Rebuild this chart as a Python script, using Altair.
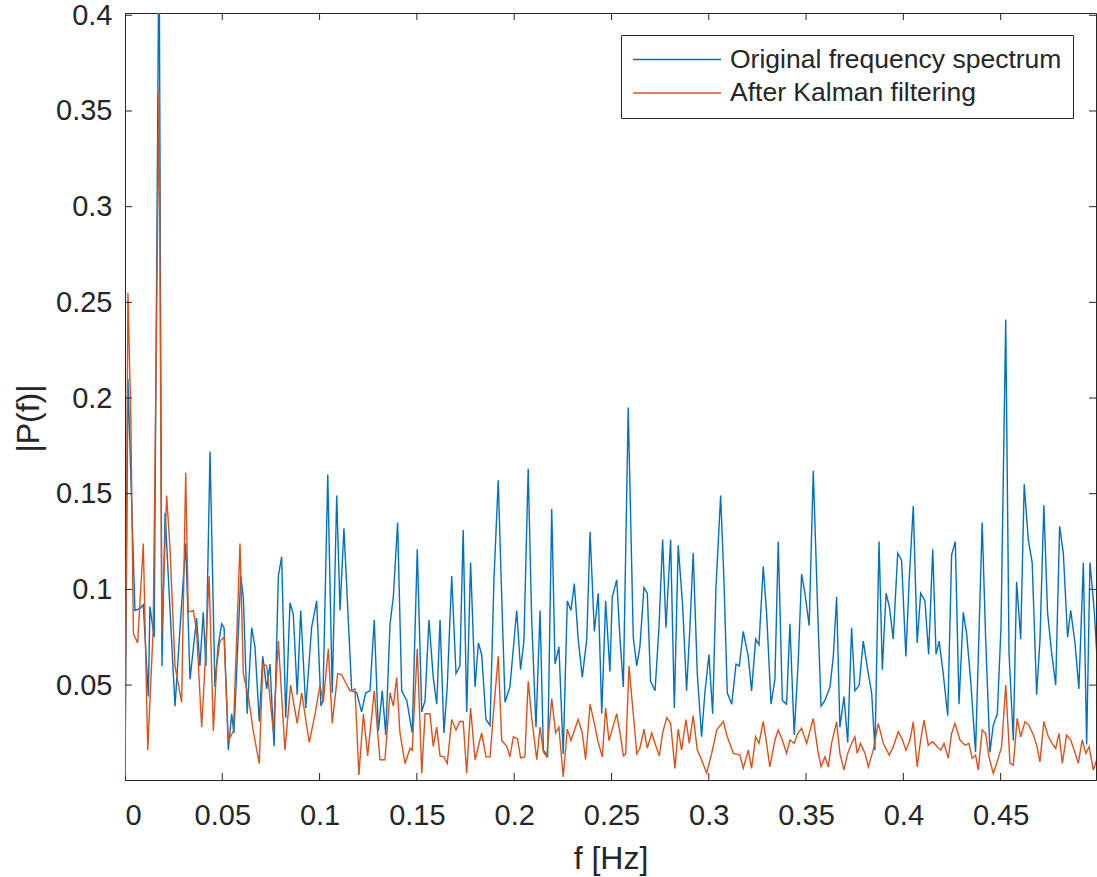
import altair as alt
import pandas as pd

series_names = ["Original frequency spectrum", "After Kalman filtering"]
series_colors = ["#0072BD", "#D95319"]

blue_f = [0.0, 0.0015, 0.0051, 0.0077, 0.0094, 0.0120, 0.0128, 0.0150, 0.0175, 0.0190,
          0.0206, 0.0231, 0.0257, 0.0283, 0.0312, 0.0334, 0.0368, 0.0385, 0.0402, 0.0416,
          0.0437, 0.0462, 0.0478, 0.0497, 0.0509, 0.0531, 0.0548, 0.0560, 0.0595, 0.0608,
          0.0628, 0.0651, 0.0668, 0.0690, 0.0708, 0.0728, 0.0745, 0.0766, 0.0788, 0.0805,
          0.0826, 0.0848, 0.0865, 0.0885, 0.0903, 0.0929, 0.0959, 0.0985, 0.1007, 0.1017,
          0.1042, 0.1065, 0.1088, 0.1105, 0.1125, 0.1165, 0.1191, 0.1216, 0.1237, 0.1259,
          0.1281, 0.1302, 0.1322, 0.1340, 0.1362, 0.1379, 0.1401, 0.1422, 0.1448, 0.1476,
          0.1502, 0.1525, 0.1542, 0.1562, 0.1584, 0.1602, 0.1619, 0.1639, 0.1656, 0.1679,
          0.1701, 0.1721, 0.1738, 0.1756, 0.1776, 0.1799, 0.1816, 0.1833, 0.1855, 0.1876,
          0.1896, 0.1918, 0.1936, 0.1953, 0.1978, 0.2013, 0.2033, 0.2050, 0.2072, 0.2090,
          0.2112, 0.2133, 0.2150, 0.2172, 0.2193, 0.2210, 0.2230, 0.2252, 0.2273, 0.2292,
          0.2309, 0.2329, 0.2350, 0.2373, 0.2390, 0.2412, 0.2432, 0.2450, 0.2470, 0.2492,
          0.2504, 0.2527, 0.2544, 0.2561, 0.2586, 0.2612, 0.2630, 0.2646, 0.2667, 0.2684,
          0.2701, 0.2724, 0.2744, 0.2763, 0.2780, 0.2804, 0.2823, 0.2843, 0.2866, 0.2886,
          0.2903, 0.2920, 0.2941, 0.2963, 0.2980, 0.3001, 0.3020, 0.3037, 0.3061, 0.3078,
          0.3095, 0.3118, 0.3140, 0.3157, 0.3177, 0.3203, 0.3220, 0.3241, 0.3258, 0.3280,
          0.3297, 0.3320, 0.3340, 0.3357, 0.3378, 0.3400, 0.3417, 0.3439, 0.3460, 0.3477,
          0.3494, 0.3516, 0.3537, 0.3560, 0.3577, 0.3597, 0.3623, 0.3640, 0.3657, 0.3674,
          0.3695, 0.3714, 0.3734, 0.3751, 0.3773, 0.3794, 0.3820, 0.3837, 0.3854, 0.3875,
          0.3892, 0.3911, 0.3928, 0.3948, 0.3971, 0.3991, 0.4013, 0.4030, 0.4051, 0.4071,
          0.4089, 0.4111, 0.4130, 0.4151, 0.4168, 0.4184, 0.4205, 0.4228, 0.4248, 0.4267,
          0.4286, 0.4308, 0.4325, 0.4347, 0.4371, 0.4405, 0.4423, 0.4445, 0.4462, 0.4483,
          0.4502, 0.4526, 0.4543, 0.4565, 0.4582, 0.4603, 0.4621, 0.4642, 0.4662, 0.4685,
          0.4702, 0.4722, 0.4741, 0.4762, 0.4783, 0.4803, 0.4822, 0.4844, 0.4860, 0.4882,
          0.4902, 0.4925, 0.4942, 0.4959, 0.4981, 0.4993]
blue_p = [0.002, 0.210, 0.089, 0.090, 0.092, 0.044, 0.091, 0.075, 0.450, 0.060,
          0.140, 0.090, 0.039, 0.080, 0.124, 0.053, 0.085, 0.060, 0.088, 0.060,
          0.172, 0.049, 0.070, 0.082, 0.080, 0.016, 0.035, 0.025, 0.107, 0.096,
          0.035, 0.080, 0.070, 0.031, 0.065, 0.048, 0.061, 0.018, 0.107, 0.117,
          0.033, 0.093, 0.087, 0.045, 0.089, 0.038, 0.080, 0.094, 0.039, 0.042,
          0.160, 0.046, 0.149, 0.089, 0.132, 0.047, 0.046, 0.036, 0.046, 0.047,
          0.084, 0.026, 0.047, 0.024, 0.082, 0.096, 0.135, 0.047, 0.042, 0.025,
          0.121, 0.036, 0.042, 0.084, 0.054, 0.040, 0.084, 0.025, 0.049, 0.107,
          0.056, 0.060, 0.131, 0.036, 0.114, 0.049, 0.072, 0.066, 0.032, 0.029,
          0.105, 0.157, 0.096, 0.041, 0.049, 0.089, 0.058, 0.073, 0.163, 0.084,
          0.028, 0.089, 0.016, 0.013, 0.142, 0.061, 0.070, 0.014, 0.094, 0.089,
          0.103, 0.074, 0.054, 0.074, 0.130, 0.078, 0.098, 0.035, 0.094, 0.057,
          0.096, 0.105, 0.074, 0.049, 0.195, 0.075, 0.060, 0.070, 0.101, 0.098,
          0.052, 0.047, 0.080, 0.126, 0.080, 0.126, 0.038, 0.123, 0.091, 0.047,
          0.080, 0.119, 0.056, 0.023, 0.046, 0.066, 0.035, 0.101, 0.149, 0.105,
          0.046, 0.040, 0.061, 0.060, 0.078, 0.065, 0.047, 0.074, 0.071, 0.112,
          0.088, 0.040, 0.053, 0.125, 0.042, 0.040, 0.082, 0.024, 0.063, 0.108,
          0.098, 0.081, 0.162, 0.088, 0.039, 0.042, 0.049, 0.065, 0.096, 0.028,
          0.044, 0.020, 0.080, 0.047, 0.050, 0.073, 0.056, 0.046, 0.016, 0.125,
          0.058, 0.098, 0.091, 0.074, 0.119, 0.115, 0.065, 0.105, 0.1435, 0.072,
          0.098, 0.094, 0.066, 0.121, 0.066, 0.073, 0.056, 0.034, 0.118, 0.125,
          0.040, 0.088, 0.077, 0.051, 0.015, 0.135, 0.074, 0.015, 0.029, 0.035,
          0.081, 0.241, 0.067, 0.021, 0.104, 0.074, 0.155, 0.126, 0.114, 0.045,
          0.0735, 0.144, 0.088, 0.067, 0.050, 0.133, 0.119, 0.075, 0.089, 0.072,
          0.048, 0.114, 0.019, 0.114, 0.089, 0.068]

red_f = [0.0, 0.0015, 0.0030, 0.0043, 0.0065, 0.0094, 0.0117, 0.0145, 0.0175, 0.0189,
         0.0214, 0.0231, 0.0257, 0.0291, 0.0312, 0.0325, 0.0351, 0.0368, 0.0394, 0.0411,
         0.0432, 0.0454, 0.0471, 0.0488, 0.0509, 0.0531, 0.0557, 0.0591, 0.0608, 0.0634,
         0.0659, 0.0690, 0.0708, 0.0728, 0.0762, 0.0788, 0.0822, 0.0851, 0.0885, 0.0908,
         0.0947, 0.0977, 0.1002, 0.1019, 0.1045, 0.1065, 0.1093, 0.1113, 0.1130, 0.1156,
         0.1182, 0.1202, 0.1225, 0.1247, 0.1281, 0.1310, 0.1336, 0.1362, 0.1379, 0.1396,
         0.1413, 0.1439, 0.1465, 0.1476, 0.1502, 0.1525, 0.1542, 0.1567, 0.1584, 0.1602,
         0.1619, 0.1639, 0.1656, 0.1679, 0.1701, 0.1721, 0.1738, 0.1756, 0.1776, 0.1799,
         0.1833, 0.1855, 0.1876, 0.1893, 0.1918, 0.1936, 0.1962, 0.1978, 0.1996, 0.2017,
         0.2033, 0.2055, 0.2072, 0.2090, 0.2116, 0.2133, 0.2150, 0.2167, 0.2193, 0.2213,
         0.2230, 0.2252, 0.2273, 0.2292, 0.2312, 0.2329, 0.2350, 0.2367, 0.2390, 0.2412,
         0.2432, 0.2453, 0.2470, 0.2487, 0.2504, 0.2527, 0.2544, 0.2561, 0.2573, 0.2590,
         0.2612, 0.2630, 0.2646, 0.2667, 0.2684, 0.2707, 0.2724, 0.2746, 0.2763, 0.2784,
         0.2804, 0.2826, 0.2843, 0.2860, 0.2883, 0.2900, 0.2920, 0.2941, 0.2963, 0.2989,
         0.3015, 0.3041, 0.3075, 0.3095, 0.3127, 0.3160, 0.3177, 0.3203, 0.3220, 0.3241,
         0.3258, 0.3280, 0.3297, 0.3314, 0.3340, 0.3357, 0.3378, 0.3400, 0.3417, 0.3439,
         0.3457, 0.3477, 0.3503, 0.3537, 0.3560, 0.3577, 0.3597, 0.3614, 0.3631, 0.3657,
         0.3674, 0.3695, 0.3714, 0.3734, 0.3751, 0.3763, 0.3780, 0.3803, 0.3820, 0.3845,
         0.3871, 0.3897, 0.3928, 0.3948, 0.3974, 0.3996, 0.4013, 0.4034, 0.4051, 0.4071,
         0.4089, 0.4106, 0.4128, 0.4151, 0.4174, 0.4192, 0.4209, 0.4231, 0.4248, 0.4265,
         0.4291, 0.4317, 0.4337, 0.4354, 0.4371, 0.4385, 0.4405, 0.4423, 0.4440, 0.4462,
         0.4485, 0.4505, 0.4526, 0.4548, 0.4565, 0.4585, 0.4603, 0.4625, 0.4645, 0.4668,
         0.4685, 0.4702, 0.4722, 0.4745, 0.4765, 0.4783, 0.4800, 0.4817, 0.4839, 0.4860,
         0.4878, 0.4899, 0.4919, 0.4938, 0.4955, 0.4976, 0.4993]
red_p = [0.003, 0.255, 0.190, 0.077, 0.072, 0.124, 0.016, 0.080, 0.361, 0.077,
         0.149, 0.122, 0.060, 0.041, 0.161, 0.088, 0.089, 0.078, 0.028, 0.060,
         0.107, 0.026, 0.060, 0.073, 0.075, 0.021, 0.026, 0.124, 0.056, 0.044,
         0.026, 0.009, 0.061, 0.060, 0.026, 0.073, 0.016, 0.050, 0.030, 0.046,
         0.020, 0.035, 0.050, 0.041, 0.069, 0.030, 0.056, 0.0555, 0.052, 0.047,
         0.048, 0.003, 0.035, 0.013, 0.047, 0.011, 0.011, 0.046, 0.039, 0.054,
         0.025, 0.009, 0.017, 0.016, 0.069, 0.004, 0.035, 0.035, 0.018, 0.028,
         0.013, 0.0125, 0.009, 0.032, 0.0265, 0.031, 0.031, 0.004, 0.038, 0.011,
         0.025, 0.0125, 0.0125, 0.035, 0.065, 0.021, 0.018, 0.0125, 0.023, 0.022,
         0.012, 0.0125, 0.052, 0.033, 0.011, 0.028, 0.015, 0.0125, 0.043, 0.025,
         0.028, 0.002, 0.027, 0.021, 0.027, 0.032, 0.025, 0.011, 0.040, 0.030,
         0.020, 0.0125, 0.038, 0.021, 0.027, 0.035, 0.025, 0.013, 0.014, 0.060,
         0.035, 0.014, 0.017, 0.027, 0.017, 0.025, 0.0195, 0.013, 0.025, 0.033,
         0.030, 0.0065, 0.027, 0.016, 0.032, 0.0195, 0.034, 0.016, 0.011, 0.004,
         0.0143, 0.0265, 0.031, 0.023, 0.0143, 0.0134, 0.0065, 0.016, 0.0065, 0.023,
         0.0195, 0.031, 0.0195, 0.0073, 0.0213, 0.0265, 0.0213, 0.0143, 0.0213, 0.0195,
         0.0247, 0.0274, 0.0195, 0.0326, 0.016, 0.0073, 0.0125, 0.0073, 0.0195, 0.0308,
         0.0143, 0.0056, 0.0143, 0.0195, 0.023, 0.0143, 0.0195, 0.0143, 0.0073, 0.016,
         0.030, 0.0195, 0.0134, 0.0178, 0.0256, 0.0213, 0.016, 0.0213, 0.0308, 0.0073,
         0.0213, 0.0317, 0.0186, 0.0204, 0.0178, 0.016, 0.0195, 0.0117, 0.0247, 0.030,
         0.0213, 0.0186, 0.0195, 0.0117, 0.0134, 0.0056, 0.0265, 0.0248, 0.0125, 0.0039,
         0.0108, 0.0178, 0.050, 0.0091, 0.0082, 0.0326, 0.023, 0.0308, 0.0291, 0.0239,
         0.0186, 0.0099, 0.031, 0.023, 0.0195, 0.0169, 0.0248, 0.0091, 0.0239, 0.0213,
         0.016, 0.0091, 0.0213, 0.0143, 0.0178, 0.0056, 0.0108]

x_ticks = [0.05, 0.1, 0.15, 0.2, 0.25, 0.3, 0.35, 0.4, 0.45]
x_labels = [0.0] + x_ticks
y_ticks = [0.05, 0.1, 0.15, 0.2, 0.25, 0.3, 0.35, 0.4]
x_domain = [0.0, 0.499]
y_domain = [0.0004, 0.4012]

W, H = 971, 767
INK = "#262626"
FONT = "Liberation Sans"

blue = pd.DataFrame({"f": blue_f, "P": blue_p, "series": series_names[0]})
red = pd.DataFrame({"f": red_f, "P": red_p, "series": series_names[1]})

xs = alt.Scale(domain=x_domain, nice=False, zero=False)
ys = alt.Scale(domain=y_domain, nice=False, zero=False)

x_axis = alt.Axis(title="f [Hz]", values=x_labels, format=".2~f", labelPadding=21,
                  titleX=485.5, titleY=78, titleBaseline="middle")
y_axis = alt.Axis(title="|P(f)|", values=y_ticks, format=".2~f", labelPadding=13,
                  titleX=-97, titleY=405, titleAngle=270, titleBaseline="middle")

color = alt.Color(
    "series:N",
    scale=alt.Scale(domain=series_names, range=series_colors),
    legend=alt.Legend(
        title=None, orient="none", legendX=496, legendY=22,
        symbolType="stroke", symbolSize=7744, symbolStrokeWidth=1.5, clipHeight=27,
        labelFontSize=26.5, labelFont=FONT, labelColor=INK, labelOffset=8,
        padding=11, rowPadding=6.5, strokeColor=INK, fillColor="white",
        cornerRadius=0, labelLimit=600,
    ),
)

def series_layer(df):
    return alt.Chart(df).mark_line(clip=True, strokeWidth=1.4).encode(
        x=alt.X("f:Q", scale=xs, axis=x_axis),
        y=alt.Y("P:Q", scale=ys, axis=y_axis),
        color=color,
    )

xt = pd.DataFrame({"f": x_ticks})
yt = pd.DataFrame({"P": y_ticks})

xtick_bottom = alt.Chart(xt).mark_rule(color=INK, strokeWidth=1).encode(
    x=alt.X("f:Q", scale=xs, axis=x_axis), y=alt.value(H), y2=alt.value(H - 7))
xtick_top = alt.Chart(xt).mark_rule(color=INK, strokeWidth=1).encode(
    x=alt.X("f:Q", scale=xs, axis=x_axis), y=alt.value(0), y2=alt.value(7))
ytick_left = alt.Chart(yt).mark_rule(color=INK, strokeWidth=1).encode(
    y=alt.Y("P:Q", scale=ys, axis=y_axis), x=alt.value(0), x2=alt.value(7))
ytick_right = alt.Chart(yt).mark_rule(color=INK, strokeWidth=1).encode(
    y=alt.Y("P:Q", scale=ys, axis=y_axis), x=alt.value(W), x2=alt.value(W - 7))

chart = alt.layer(
    series_layer(blue), series_layer(red),
    xtick_bottom, xtick_top, ytick_left, ytick_right,
).properties(
    width=W, height=H,
    autosize=alt.AutoSizeParams(type="none"),
    padding={"left": 125, "top": 13, "right": 1, "bottom": 97},
    background="white",
).configure_view(
    stroke=INK, strokeWidth=1,
).configure_axis(
    grid=False, ticks=False, domainColor=INK, domainWidth=1,
    labelFont=FONT, labelFontSize=29, labelColor=INK,
    titleFont=FONT, titleFontSize=32, titleColor=INK, titleFontWeight="normal",
)

chart.save("out.html", embed_options={"renderer": "svg", "actions": False})
